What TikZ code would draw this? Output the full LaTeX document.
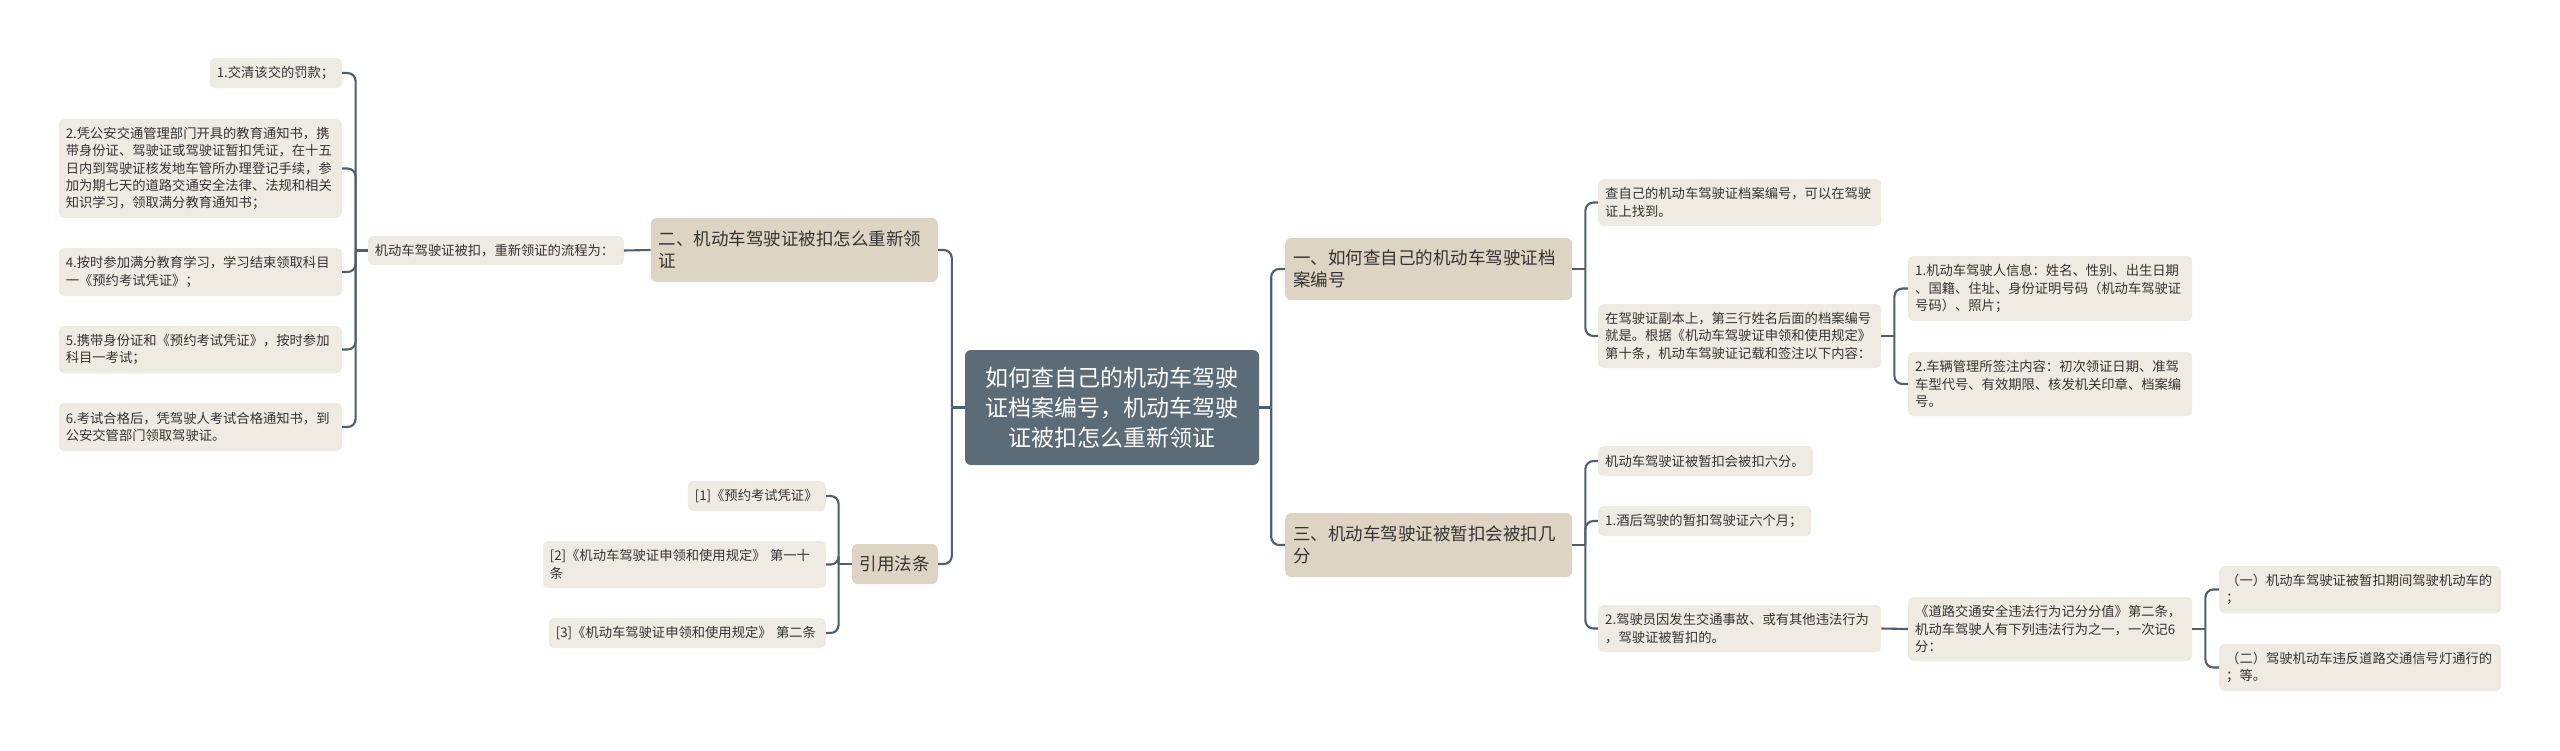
\documentclass[tikz,border=0pt]{standalone}
\usepackage{fontspec}
\setmainfont{Noto Sans CJK SC}
\usetikzlibrary{calc}
\definecolor{rootfill}{RGB}{91,107,120}
\definecolor{lonefill}{RGB}{222,212,196}
\definecolor{leaffill}{RGB}{239,235,227}
\definecolor{linecol}{RGB}{79,95,107}
\definecolor{txt}{RGB}{51,51,51}
\tikzset{
  leaf/.style={fill=leaffill, rounded corners=5pt, inner xsep=7pt, inner ysep=2pt, align=left,
    font=\fontsize{13.3}{17.3}\selectfont, text=txt},
  lone/.style={fill=lonefill, rounded corners=6pt, inner xsep=8pt, inner ysep=2pt, align=left,
    font=\fontsize{17.5}{22}\selectfont, text=txt},
  rootbox/.style={fill=rootfill, rounded corners=6pt, inner sep=4pt, align=center,
    font=\fontsize{23}{30}\selectfont, text=white, minimum width=294pt, minimum height=115pt},
  conn/.style={draw=linecol, line width=2.1pt},
  rc/.style={conn, rounded corners=8pt},
  lw/.style 2 args={text width=#1pt-14pt, minimum width=#1pt, minimum height=#2pt},
  ow/.style 2 args={text width=#1pt-16pt, minimum width=#1pt, minimum height=#2pt},
}
\begin{document}
\begin{tikzpicture}[x=1pt,y=-1pt]
\useasboundingbox[fill=white] (0,0) rectangle (2560,750);

% root
\node[rootbox] (root) at (1112,407.5) {如何查自己的机动车驾驶\\证档案编号，机动车驾驶\\证被扣怎么重新领证};

% left branch: 二
\node[lone, ow={287}{64}, anchor=east] (n2) at (938,250) {二、机动车驾驶证被扣怎么重新领\\证};
\node[leaf, lw={256}{29}, anchor=east] (lf) at (624,250.5) {机动车驾驶证被扣，重新领证的流程为：};
\node[leaf, lw={132}{30}, anchor=east] (l1) at (342,73) {1.交清该交的罚款；};
\node[leaf, lw={283}{99}, anchor=east] (l2) at (342,168.5) {2.凭公安交通管理部门开具的教育通知书，携\\带身份证、驾驶证或驾驶证暂扣凭证，在十五\\日内到驾驶证核发地车管所办理登记手续，参\\加为期七天的道路交通安全法律、法规和相关\\知识学习，领取满分教育通知书；};
\node[leaf, lw={283}{48}, anchor=east] (l4) at (342,272) {4.按时参加满分教育学习，学习结束领取科目\\一《预约考试凭证》；};
\node[leaf, lw={283}{47}, anchor=east] (l5) at (342,349.5) {5.携带身份证和《预约考试凭证》，按时参加\\科目一考试；};
\node[leaf, lw={283}{48}, anchor=east] (l6) at (342,427) {6.考试合格后，凭驾驶人考试合格通知书，到\\公安交管部门领取驾驶证。};

% left branch: 引用法条
\node[lone, minimum width=86pt, minimum height=40pt, align=center, anchor=east] (ref) at (938,564) {引用法条};
\node[leaf, lw={138}{30}, anchor=east] (r1) at (826,496) {[1]《预约考试凭证》};
\node[leaf, lw={283}{47}, anchor=east] (r2) at (826,564.5) {[2]《机动车驾驶证申领和使用规定》 第一十\\条};
\node[leaf, lw={277}{30}, anchor=east] (r3) at (826,633) {[3]《机动车驾驶证申领和使用规定》 第二条};

% right branch: 一
\node[lone, ow={287}{62}, anchor=west] (n1) at (1285,269) {一、如何查自己的机动车驾驶证档\\案编号};
\node[leaf, lw={283}{47}, anchor=west] (a1) at (1598,202.5) {查自己的机动车驾驶证档案编号，可以在驾驶\\证上找到。};
\node[leaf, lw={283}{64}, anchor=west] (a2) at (1598,336) {在驾驶证副本上，第三行姓名后面的档案编号\\就是。根据《机动车驾驶证申领和使用规定》\\第十条，机动车驾驶证记载和签注以下内容：};
\node[leaf, lw={284}{65}, anchor=west] (b1) at (1908,288.5) {1.机动车驾驶人信息：姓名、性别、出生日期\\、国籍、住址、身份证明号码（机动车驾驶证\\号码）、照片；};
\node[leaf, lw={284}{64}, anchor=west] (b2) at (1908,384) {2.车辆管理所签注内容：初次领证日期、准驾\\车型代号、有效期限、核发机关印章、档案编\\号。};

% right branch: 三
\node[lone, ow={287}{64}, anchor=west] (n3) at (1285,545) {三、机动车驾驶证被暂扣会被扣几\\分};
\node[leaf, lw={215}{30}, anchor=west] (c1) at (1598,461) {机动车驾驶证被暂扣会被扣六分。};
\node[leaf, lw={213}{30}, anchor=west] (c2) at (1598,521) {1.酒后驾驶的暂扣驾驶证六个月；};
\node[leaf, lw={283}{47}, anchor=west] (c3) at (1598,628.5) {2.驾驶员因发生交通事故、或有其他违法行为\\，驾驶证被暂扣的。};
\node[leaf, lw={284}{64}, anchor=west] (d1) at (1908,629) {《道路交通安全违法行为记分分值》第二条，\\机动车驾驶人有下列违法行为之一，一次记6\\分：};
\node[leaf, lw={282}{47}, anchor=west] (e1) at (2219,589.5) {（一）机动车驾驶证被暂扣期间驾驶机动车的\\；};
\node[leaf, lw={282}{47}, anchor=west] (e2) at (2219,667.5) {（二）驾驶机动车违反道路交通信号灯通行的\\；等。};

% junction points
\coordinate (jrr) at ($(root.east)+(12,0)$);
\coordinate (jrl) at ($(root.west)+(-13,0)$);
\coordinate (jlf) at ($(lf.west)+(-12,0)$);
\coordinate (jref) at ($(ref.west)+(-13,0)$);
\coordinate (jn1) at ($(n1.east)+(13,0)$);
\coordinate (ja2) at ($(a2.east)+(13,0)$);
\coordinate (jn3) at ($(n3.east)+(13,0)$);
\coordinate (jd1) at ($(d1.east)+(13,0)$);

% connectors
\draw[conn] (root.east) -- (jrr);
\draw[rc] (jrr) |- (n1.west);
\draw[rc] (jrr) |- (n3.west);
\draw[conn] (root.west) -- (jrl);
\draw[rc] (jrl) |- (n2.east);
\draw[rc] (jrl) |- (ref.east);

\draw[conn] (n2.west) -- (lf.east);
\draw[conn] (lf.west) -- (jlf);
\foreach \c in {l1,l2,l4,l5,l6} \draw[rc] (jlf) |- (\c.east);

\draw[conn] (ref.west) -- (jref);
\foreach \c in {r1,r2,r3} \draw[rc] (jref) |- (\c.east);

\draw[conn] (n1.east) -- (jn1);
\foreach \c in {a1,a2} \draw[rc] (jn1) |- (\c.west);
\draw[conn] (a2.east) -- (ja2);
\foreach \c in {b1,b2} \draw[rc] (ja2) |- (\c.west);

\draw[conn] (n3.east) -- (jn3);
\foreach \c in {c1,c2,c3} \draw[rc] (jn3) |- (\c.west);
\draw[conn] (c3.east) -- (d1.west);
\draw[conn] (d1.east) -- (jd1);
\foreach \c in {e1,e2} \draw[rc] (jd1) |- (\c.west);
\end{tikzpicture}
\end{document}
